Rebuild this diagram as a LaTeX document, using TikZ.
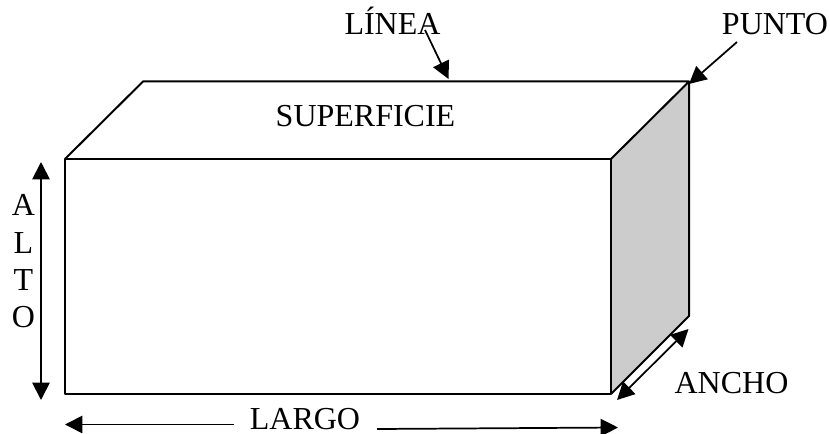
\documentclass[tikz,border=0pt]{standalone}
\usepackage{fontspec}
\setmainfont{Liberation Serif}
\usetikzlibrary{arrows.meta}
\definecolor{sidegray}{gray}{0.8}
\tikzset{
    myedge/.style = {line width=1.5pt,black,line join=round},
    myarrow/.style = {line width=1.3pt,black,-{Triangle[length=13pt,width=13pt]}},
    myarrowb/.style = {line width=1.3pt,black,{Triangle[length=13pt,width=13pt]}-{Triangle[length=13pt,width=13pt]}},
    mylabel/.style = {inner sep=0pt,anchor=base,font=\fontsize{24}{24}\selectfont,text=black}
}
\begin{document}
\begin{tikzpicture}[x=0.75pt,y=-0.75pt]
    \useasboundingbox (0,0) rectangle (830,434);
    % box corners
    \coordinate (fbl) at (65,394);
    \coordinate (ftl) at (65,159);
    \coordinate (ftr) at (611,159);
    \coordinate (fbr) at (611,394);
    \coordinate (btl) at (143,81.5);
    \coordinate (btr) at (689,81.5);
    \coordinate (bbr) at (689,316);
    % arrow ends
    \coordinate (lineae) at (448.5,79);
    \coordinate (lineas) at (425,30);
    \coordinate (puntoe) at (689,84);
    \coordinate (puntos) at (737,42);
    \coordinate (altos) at (41,162);
    \coordinate (altoe) at (41,400);
    \coordinate (anchos) at (688.5,329);
    \coordinate (anchoe) at (617,400);
    \coordinate (largoe) at (65,424.5);
    \coordinate (largos) at (234,424.5);
    \coordinate (largot) at (377,429);
    \coordinate (largou) at (618,427.5);

    \fill[sidegray] (ftr) -- (btr) -- (bbr) -- (fbr) -- cycle;
    \draw[myedge] (fbl) -- (ftl) -- (ftr) -- (fbr) -- cycle;
    \draw[myedge] (ftl) -- (btl) -- (btr) -- (ftr);
    \draw[myedge] (btr) -- (bbr) -- (fbr);

    \node[mylabel] (tlinea) at (392.5,35) {LÍNEA};
    \node[mylabel] (tpunto) at (775,35) {PUNTO};
    \node[mylabel] (tsuper) at (365.5,127) {SUPERFICIE};
    \node[mylabel] (ta) at (23.5,216) {A};
    \node[mylabel] (tl) at (23.5,253) {L};
    \node[mylabel] (tt) at (23.5,290) {T};
    \node[mylabel] (to) at (23.5,327) {O};
    \node[mylabel] (tancho) at (731.5,393) {ANCHO};
    \node[mylabel] (tlargo) at (305,429) {LARGO};

    \draw[myarrow] (lineas) -- (lineae);
    \draw[myarrow] (puntos) -- (puntoe);
    \draw[myarrowb] (altos) -- (altoe);
    \draw[myarrowb] (anchos) -- (anchoe);
    \draw[myarrow] (largos) -- (largoe);
    \draw[myarrow] (largot) -- (largou);
\end{tikzpicture}
\end{document}
